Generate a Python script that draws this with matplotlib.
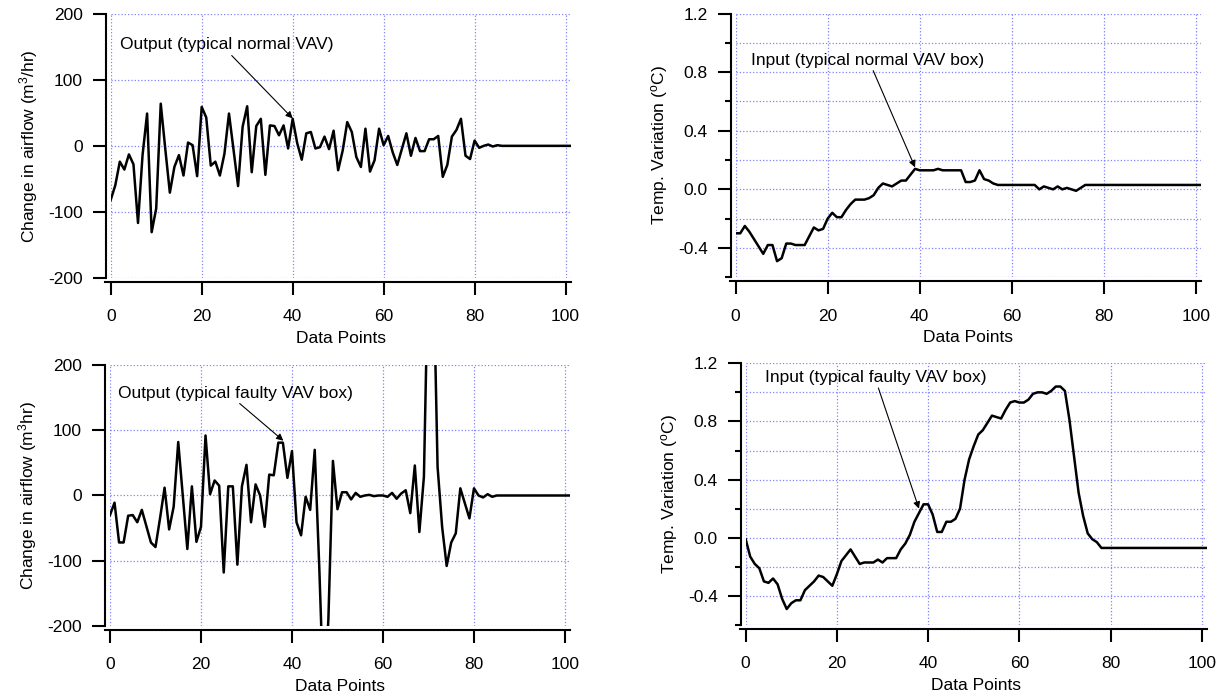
import numpy as np
import matplotlib
matplotlib.use("Agg")
import matplotlib.pyplot as plt
from matplotlib.ticker import MultipleLocator, FormatStrFormatter

plt.rcParams['font.family'] = ['Liberation Sans', 'DejaVu Sans']
plt.rcParams['mathtext.default'] = 'regular'
plt.rcParams['axes.unicode_minus'] = False
plt.rcParams['font.size'] = 12.5

points = np.arange(102)

# airflow change, normal box (m3/hr)
normal_output = [
    -82, -60, -24, -36, -13, -28, -117, -14, 49, -131,
    -95, 64, -5, -71, -32, -14, -45, 5, 1, -46,
    59, 43, -30, -24, -45, -12, 49, -6, -61, 29,
    60, -40, 30, 41, -44, 31, 30, 16, 31, -4,
    41, 4, -21, 19, 21, -4, -2, 14, -5, 23,
    -37, -7, 36, 21, -17, -32, 26, -39, -22, 26,
    1, 15, -10, -29, -5, 19, -15, 12, -8, -8,
    10, 10, 15, -47, -29, 14, 24, 41, -15, -20,
    8, -3, 0, 2, -1, 1, 0, 0, 0, 0,
    0, 0, 0, 0, 0, 0, 0, 0, 0, 0,
    0, 0]

# temperature variation, normal box (C)
normal_input = [
    -0.30, -0.30, -0.25, -0.29, -0.34, -0.39, -0.44, -0.38, -0.38, -0.49,
    -0.47, -0.37, -0.37, -0.38, -0.38, -0.38, -0.32, -0.26, -0.28, -0.27,
    -0.20, -0.16, -0.19, -0.19, -0.14, -0.10, -0.07, -0.07, -0.07, -0.06,
    -0.04, 0.01, 0.04, 0.03, 0.02, 0.04, 0.06, 0.06, 0.10, 0.14,
    0.13, 0.13, 0.13, 0.13, 0.14, 0.13, 0.13, 0.13, 0.13, 0.13,
    0.05, 0.05, 0.06, 0.13, 0.07, 0.06, 0.04, 0.03, 0.03, 0.03,
    0.03, 0.03, 0.03, 0.03, 0.03, 0.03, 0.00, 0.02, 0.01, 0.00,
    0.02, 0.00, 0.01, 0.00, -0.01, 0.01, 0.03, 0.03, 0.03, 0.03,
    0.03, 0.03, 0.03, 0.03, 0.03, 0.03, 0.03, 0.03, 0.03, 0.03,
    0.03, 0.03, 0.03, 0.03, 0.03, 0.03, 0.03, 0.03, 0.03, 0.03,
    0.03, 0.03]

# airflow change, faulty box
faulty_output = [
    -30, -11, -72, -72, -31, -30, -41, -22, -47, -72,
    -79, -35, 12, -52, -17, 82, 0, -82, 14, -71,
    -48, 92, 2, 23, 15, -118, 14, 14, -106, 14,
    47, -41, 17, 0, -48, 32, 31, 81, 81, 27,
    68, -41, -61, -2, -22, 70, -110, -320, -190, 53,
    -21, 5, 5, -6, 4, -2, 0, 1, -1, 0,
    0, -2, 4, -5, 3, 8, -27, 46, -56, 29,
    380, 380, 44, -48, -108, -72, -58, 11, -12, -35,
    11, 0, -3, 2, -2, 0, 0, 0, 0, 0,
    0, 0, 0, 0, 0, 0, 0, 0, 0, 0,
    0, 0]

# temperature variation, faulty box
faulty_input = [
    -0.01, -0.13, -0.18, -0.21, -0.30, -0.31, -0.28, -0.32, -0.42, -0.49,
    -0.45, -0.43, -0.43, -0.36, -0.33, -0.30, -0.26, -0.27, -0.30, -0.33,
    -0.25, -0.16, -0.12, -0.08, -0.13, -0.18, -0.17, -0.17, -0.17, -0.15,
    -0.17, -0.14, -0.14, -0.14, -0.08, -0.04, 0.02, 0.11, 0.17, 0.23,
    0.23, 0.16, 0.04, 0.04, 0.11, 0.11, 0.13, 0.20, 0.40, 0.54,
    0.63, 0.71, 0.74, 0.79, 0.84, 0.83, 0.82, 0.88, 0.93, 0.94,
    0.93, 0.93, 0.95, 0.99, 1.00, 1.00, 0.99, 1.01, 1.04, 1.04,
    1.01, 0.81, 0.56, 0.31, 0.15, 0.03, -0.01, -0.03, -0.07, -0.07,
    -0.07, -0.07, -0.07, -0.07, -0.07, -0.07, -0.07, -0.07, -0.07, -0.07,
    -0.07, -0.07, -0.07, -0.07, -0.07, -0.07, -0.07, -0.07, -0.07, -0.07,
    -0.07, -0.07]

grid_col = '#8080ff'


def style(ax, ylim, step, fmt, minor=None):
    ax.set_xlim(0, 101.2)
    ax.set_ylim(*ylim)
    ax.spines['top'].set_visible(False)
    ax.spines['right'].set_visible(False)
    ax.spines['left'].set_position(('outward', 3.6))
    ax.spines['bottom'].set_position(('outward', 3))
    ax.spines['left'].set_linewidth(1.5)
    ax.spines['bottom'].set_linewidth(1.5)
    ax.spines['bottom'].set_bounds(-1.2, 101.2)
    ax.xaxis.set_major_locator(MultipleLocator(20))
    ax.yaxis.set_major_locator(MultipleLocator(step))
    ax.yaxis.set_major_formatter(FormatStrFormatter(fmt))
    ax.tick_params(which='major', length=9.5, width=1.5, direction='out')
    ax.tick_params(axis='x', pad=10)
    ax.tick_params(axis='y', pad=7)
    ax.grid(True, which='major', color=grid_col, ls=':', lw=0.9)
    if minor:
        ax.yaxis.set_minor_locator(MultipleLocator(minor))
        ax.tick_params(which='minor', length=4.5, width=1.5, direction='out')
        ax.grid(True, which='minor', axis='y', color=grid_col, ls=':', lw=0.9)
    ax.set_axisbelow(True)
    ax.set_xlabel('Data Points', labelpad=5)


fig = plt.figure(figsize=(12.22, 6.93), dpi=100)
ax1 = fig.add_axes([0.0906, 0.5993, 0.3767, 0.3805])
ax2 = fig.add_axes([0.6020, 0.5999, 0.3810, 0.3806])
ax3 = fig.add_axes([0.0900, 0.0967, 0.3768, 0.3766])
ax4 = fig.add_axes([0.6102, 0.0981, 0.3777, 0.3777])

arrow = dict(arrowstyle='-|>', color='k', lw=0.8, mutation_scale=10, shrinkA=0, shrinkB=0)

# top left
ax1.plot(points, normal_output, color='k', lw=1.8)
style(ax1, (-200, 200), 100, '%d')
ax1.set_ylabel('Change in airflow (m$^3$/hr)', labelpad=6)
ax1.text(2.0, 153, 'Output (typical normal VAV)', va='center', ha='left')
ax1.annotate('', xy=(40, 41.6), xytext=(26.6, 137), arrowprops=arrow)

# top right
ax2.plot(points, normal_input, color='k', lw=1.8)
style(ax2, (-0.6, 1.2), 0.4, '%.1f', minor=0.2)
ax2.set_ylabel('Temp. Variation ($^o$C)', labelpad=6)
ax2.text(3.3, 0.88, 'Input (typical normal VAV box)', va='center', ha='left')
ax2.annotate('', xy=(39.0, 0.15), xytext=(29.9, 0.81), arrowprops=arrow)

# bottom left
ax3.plot(points, faulty_output, color='k', lw=1.8)
style(ax3, (-200, 200), 100, '%d')
ax3.set_ylabel('Change in airflow (m$^3$hr)', labelpad=6)
ax3.text(1.8, 156, 'Output (typical faulty VAV box)', va='center', ha='left')
ax3.annotate('', xy=(38.1, 84), xytext=(28.5, 141), arrowprops=arrow)

# bottom right
ax4.plot(points, faulty_input, color='k', lw=1.8)
style(ax4, (-0.6, 1.2), 0.4, '%.1f', minor=0.2)
ax4.set_ylabel('Temp. Variation ($^o$C)', labelpad=6)
ax4.text(4.2, 1.10, 'Input (typical faulty VAV box)', va='center', ha='left')
ax4.annotate('', xy=(38.0, 0.20), xytext=(29.1, 1.03), arrowprops=arrow)

fig.savefig('out.png', dpi=100)
